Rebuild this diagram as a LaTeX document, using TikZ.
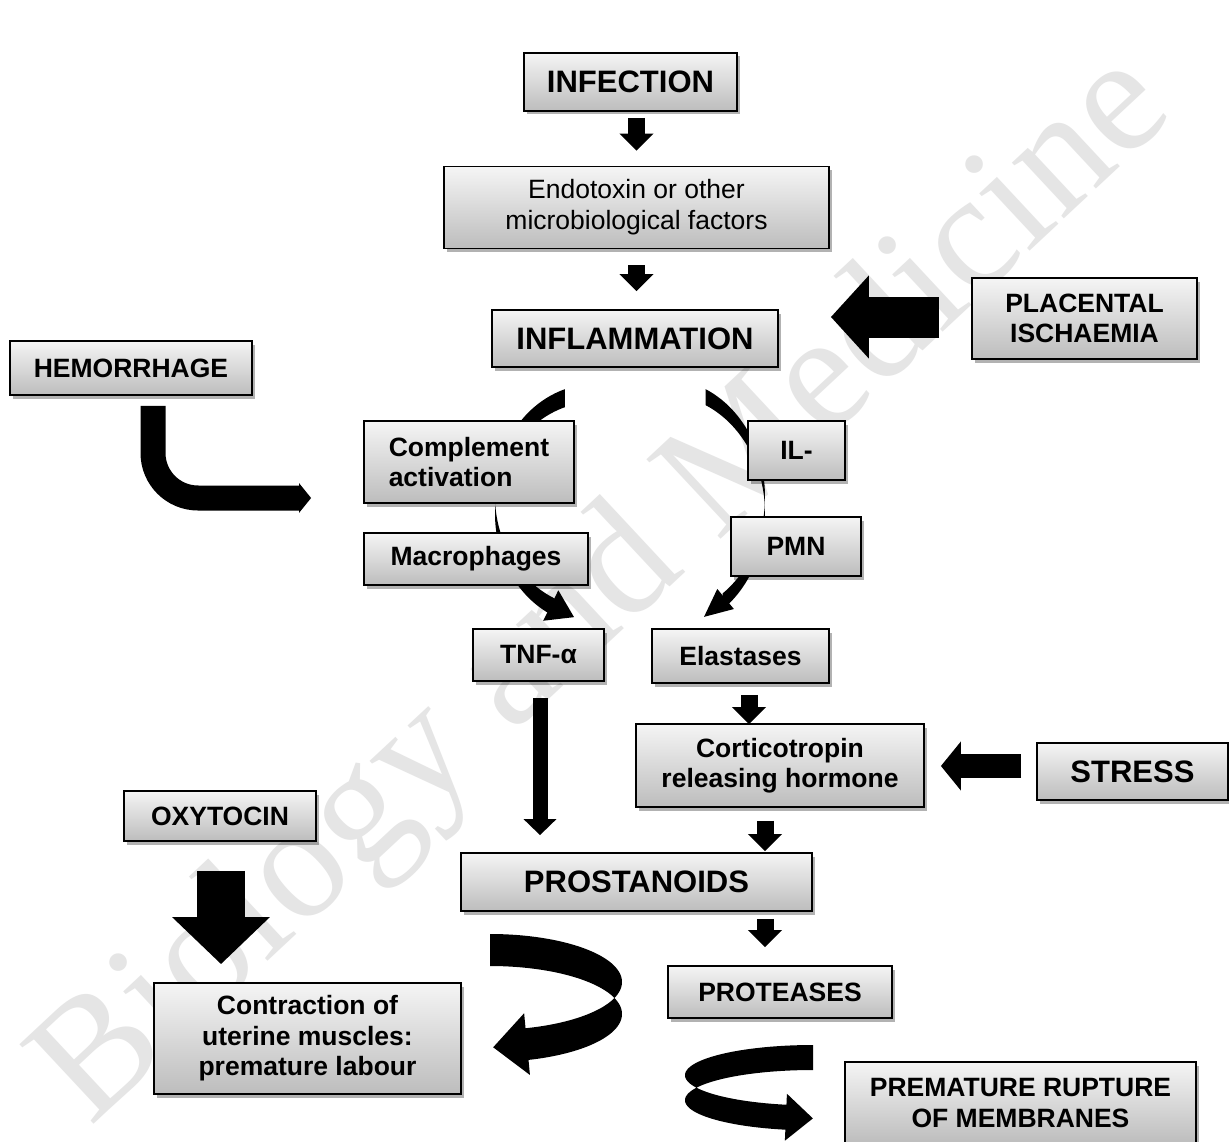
\documentclass[tikz,border=0pt]{standalone}
\usepackage{fontspec}
\setmainfont{Liberation Sans}
\newfontfamily\wmfont{Liberation Serif}
\usetikzlibrary{arrows.meta,calc,shadows}

% ribbon band: cx cy rx ry h t1 t2 (t1<t2)
\newcommand\ribbonband[7]{%
  \fill[black] plot[domain=#6:#7,samples=90,variable=\t] ({#1+#3*cos(\t)},{#2+#4*sin(\t)-#5/2})
    -- plot[domain=#6:#7,samples=90,variable=\t] ({#1+#3*cos(#6+#7-\t)},{#2+#4*sin(#6+#7-\t)+#5/2}) -- cycle;}
% ribbon head: cx cy rx ry t dir halfwidth length
\newcommand\ribbonhead[8]{%
  \pgfmathsetmacro\rhBx{#1+#3*cos(#5)}%
  \pgfmathsetmacro\rhBy{#2+#4*sin(#5)}%
  \pgfmathsetmacro\rhDx{-(#6)*#3*sin(#5)}%
  \pgfmathsetmacro\rhDy{(#6)*#4*cos(#5)}%
  \pgfmathsetmacro\rhN{veclen(\rhDx,\rhDy)}%
  \pgfmathsetmacro\rhdx{\rhDx/\rhN}%
  \pgfmathsetmacro\rhdy{\rhDy/\rhN}%
  \pgfmathsetmacro\rhbx{\rhBx-4*(\rhdx)}%
  \pgfmathsetmacro\rhby{\rhBy-4*(\rhdy)}%
  \fill[black] ({\rhbx-(#7)*(\rhdy)},{\rhby+(#7)*(\rhdx)}) -- ({\rhBx+(#8)*(\rhdx)},{\rhBy+(#8)*(\rhdy)}) -- ({\rhbx+(#7)*(\rhdy)},{\rhby-(#7)*(\rhdx)}) -- cycle;}

\tikzset{
  flowbox/.style={draw=black, line width=1.8pt, top color=white!96!black, bottom color=white!74!black,
    inner sep=0pt, align=center, font=\bfseries\fontsize{26.5}{30.5}\selectfont,
    drop shadow={shadow xshift=2.5pt, shadow yshift=-3.5pt, opacity=0.3, fill=black}},
  bigtext/.style={font=\bfseries\fontsize{31}{35}\selectfont},
  normaltext/.style={font=\fontsize{26.5}{31}\selectfont},
  sblk/.style={line width=17pt, -{Triangle[width=33pt,length=17pt]}},
  lblk/.style={line width=15pt, -{Triangle[width=32pt,length=16pt]}},
}

\begin{document}
\begin{tikzpicture}[x=1pt,y=-1pt]
\useasboundingbox[fill=white] (0,0) rectangle (1229,1142);

% watermark
\node[rotate=43, font=\wmfont\fontsize{166}{166}\selectfont, text=black!10] (wm) at (606,592) {Biology and Medicine};

% curved arrows behind boxes
\ribbonband{595}{505}{100}{112}{18}{114}{252.5}
\ribbonhead{595}{505}{100}{112}{114}{-1}{17}{22}
\ribbonband{665}{505}{100}{118}{16}{294}{414.9}
\ribbonhead{665}{505}{100}{118}{414.9}{1}{13}{24}

% boxes
\node[flowbox,bigtext,minimum width=213pt,minimum height=58pt] (infection) at (630.5,82) {INFECTION};
\node[flowbox,normaltext,minimum width=385pt,minimum height=82pt] (endo) at (636.5,207.5) {Endotoxin or other\\microbiological factors};
\node[flowbox,bigtext,minimum width=286pt,minimum height=57pt] (inflam) at (635,338.5) {INFLAMMATION};
\node[flowbox,minimum width=225pt,minimum height=81pt] (placental) at (1084.5,318.5) {PLACENTAL\\ISCHAEMIA};
\node[flowbox,minimum width=242pt,minimum height=54pt] (hemorrhage) at (131,368) {HEMORRHAGE};
\node[flowbox,align=left,minimum width=210pt,minimum height=82pt] (complement) at (469,462) {Complement\\activation};
\node[flowbox,minimum width=97pt,minimum height=59pt] (il) at (796.5,450.5) {IL-};
\node[flowbox,minimum width=224pt,minimum height=52pt] (macro) at (476,559) {Macrophages};
\node[flowbox,minimum width=130pt,minimum height=59pt] (pmn) at (796,546.5) {PMN};
\node[flowbox,minimum width=131pt,minimum height=52pt] (tnf) at (538.5,655) {TNF-α};
\node[flowbox,minimum width=177pt,minimum height=54pt] (elast) at (740.5,656) {Elastases};
\node[flowbox,minimum width=288pt,minimum height=83pt] (cortico) at (780,765.5) {Corticotropin\\releasing hormone};
\node[flowbox,bigtext,minimum width=191pt,minimum height=57pt] (stress) at (1132.5,771.5) {STRESS};
\node[flowbox,minimum width=192pt,minimum height=50pt] (oxy) at (220,816) {OXYTOCIN};
\node[flowbox,bigtext,minimum width=351pt,minimum height=58pt] (prost) at (636.5,882) {PROSTANOIDS};
\node[flowbox,minimum width=224pt,minimum height=52pt] (proteases) at (780,992) {PROTEASES};
\node[flowbox,minimum width=307pt,minimum height=111pt] (contraction) at (307.5,1038.5) {Contraction of\\uterine muscles:\\premature labour};
\node[flowbox,minimum width=351pt,minimum height=82pt] (rupture) at (1020.5,1103) {PREMATURE RUPTURE\\OF MEMBRANES};

% small block arrows
\draw[sblk] ($(infection.south -| endo.north)+(0,6)$) -- ($(endo.north)+(0,-15)$);
\draw[sblk] ($(endo.south)+(0,16)$) -- ($(endo.south |- inflam.north)+(0,-18)$);
\draw[sblk] ($(elast.south)+(8.5,11)$) -- ($(elast.south |- cortico.north)+(8.5,1)$);
\draw[sblk] ($(cortico.south)+(-15,13)$) -- ($(cortico.south |- prost.north)+(-15,-1)$);
\draw[sblk] ($(prost.south -| proteases.north)+(-15,7)$) -- ($(proteases.north)+(-15,-18)$);
\draw[lblk] ($(tnf.south)+(1.5,16)$) -- ($(tnf.south |- prost.north)+(1.5,-17)$);

% big block arrows
\draw[line width=41pt,-{Triangle[width=81pt,length=38pt]}] ($(placental.west)+(-32,-1.5)$) -- ($(placental.west -| inflam.east)+(52,-1.5)$);
\draw[line width=24pt,-{Triangle[width=48pt,length=20pt]}] ($(stress.west)+(-15,-5.5)$) -- ($(stress.west -| cortico.east)+(16,-5.5)$);
\draw[line width=48pt,-{Triangle[width=95pt,length=47pt]}] ($(oxy.south)+(1,29)$) -- ($(oxy.south |- contraction.north)+(1,-18)$);

% hemorrhage bent arrow
\coordinate (hemend) at ($(complement.west)+(-52,36)$);
\draw[line width=25pt, rounded corners=45pt, -{Triangle[width=29pt,length=12pt]}] ($(hemorrhage.south)+(22,10)$) |- (hemend);

% ribbon arrows at the bottom
\ribbonband{490}{998}{132}{48}{32}{270}{435.5}
\ribbonhead{490}{998}{132}{48}{435.5}{1}{31}{30}
\ribbonband{813}{1087.7}{128}{30.2}{25}{100.4}{270}
\ribbonhead{813}{1087.7}{128}{30.2}{100.4}{-1}{23.5}{23}
\end{tikzpicture}
\end{document}
